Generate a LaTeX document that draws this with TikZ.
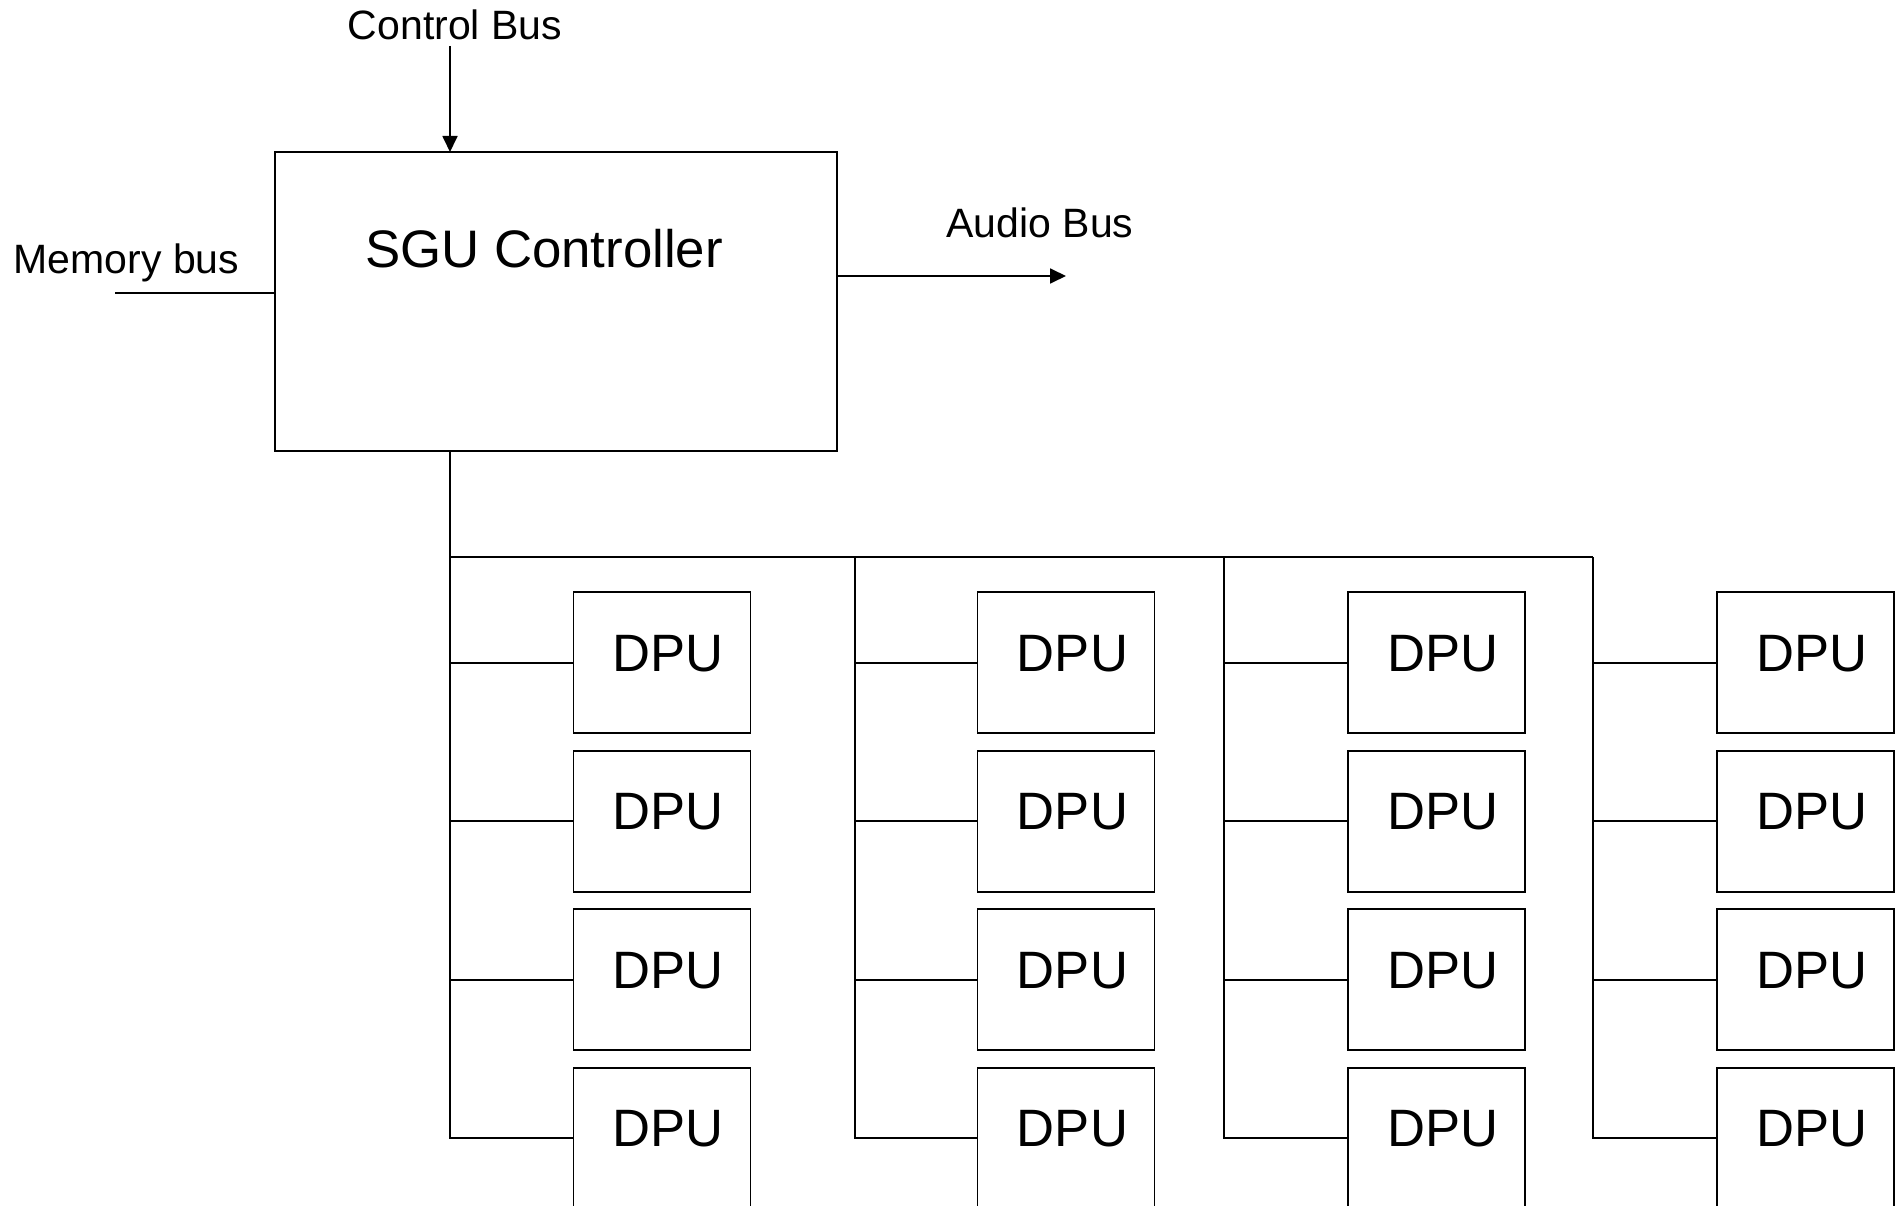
\documentclass[tikz,border=0pt]{standalone}
\usepackage{fontspec}
\setmainfont{Liberation Sans}
\usetikzlibrary{arrows.meta,calc}
\begin{document}
\begin{tikzpicture}[x=1pt,y=-1pt,
  line width=1.8pt,
  box/.style={draw,line width=1.8pt,inner sep=0pt,outer sep=0pt},
  dpubox/.style={box,minimum width=177pt,minimum height=141pt,anchor=north west},
  titletext/.style={font=\fontsize{52.8}{62}\selectfont,inner sep=0pt,anchor=base},
  dputext/.style={font=\fontsize{52.6}{62}\selectfont,inner sep=0pt,anchor=base},
  bustext/.style={font=\fontsize{41}{48}\selectfont,inner sep=0pt,anchor=base},
  busarrow/.style={-{Triangle[length=16pt,width=15pt]}}
]
\useasboundingbox (0,0) rectangle (1897,1206);
\clip (0,0) rectangle (1897,1206);

% controller block
\node[box,minimum width=562pt,minimum height=299pt] (sgu) at (556,301.5) {};
\node[titletext] (sgutitle) at (544,268) {SGU Controller};

% external buses
\coordinate (ctl) at (450,46);
\node[bustext] (ctllabel) at (455,39.5) {Control Bus};
\draw[busarrow] (ctl) -- (ctl |- sgu.north);

\coordinate (mem) at (115,293);
\node[bustext] (memlabel) at (126.5,273) {Memory bus};
\draw (mem) -- (mem -| sgu.west);

\coordinate (aud) at (1066,276);
\node[bustext] (audlabel) at (1040,238) {Audio Bus};
\draw[busarrow] (aud -| sgu.east) -- (aud);

% internal bus to the DPU array
\foreach \c/\bx/\lx in {1/450/573.4, 2/855.3/977.5, 3/1224.3/1347.7, 4/1593.3/1716.7} {
  \coordinate (top-\c) at (\bx,557);
  \foreach \r/\ty in {1/592.3, 2/750.8, 3/909.3, 4/1067.8} {
    \node[dpubox] (dpu-\c-\r) at (\lx,\ty) {};
    \node[dputext] (dpul-\c-\r) at ($(dpu-\c-\r.center)+(6.5,8.5)$) {DPU};
    \draw (dpu-\c-\r.west) -| (top-\c);
  }
}
\draw (top-1 |- sgu.south) -- (top-1) -- (top-4);
\end{tikzpicture}
\end{document}
